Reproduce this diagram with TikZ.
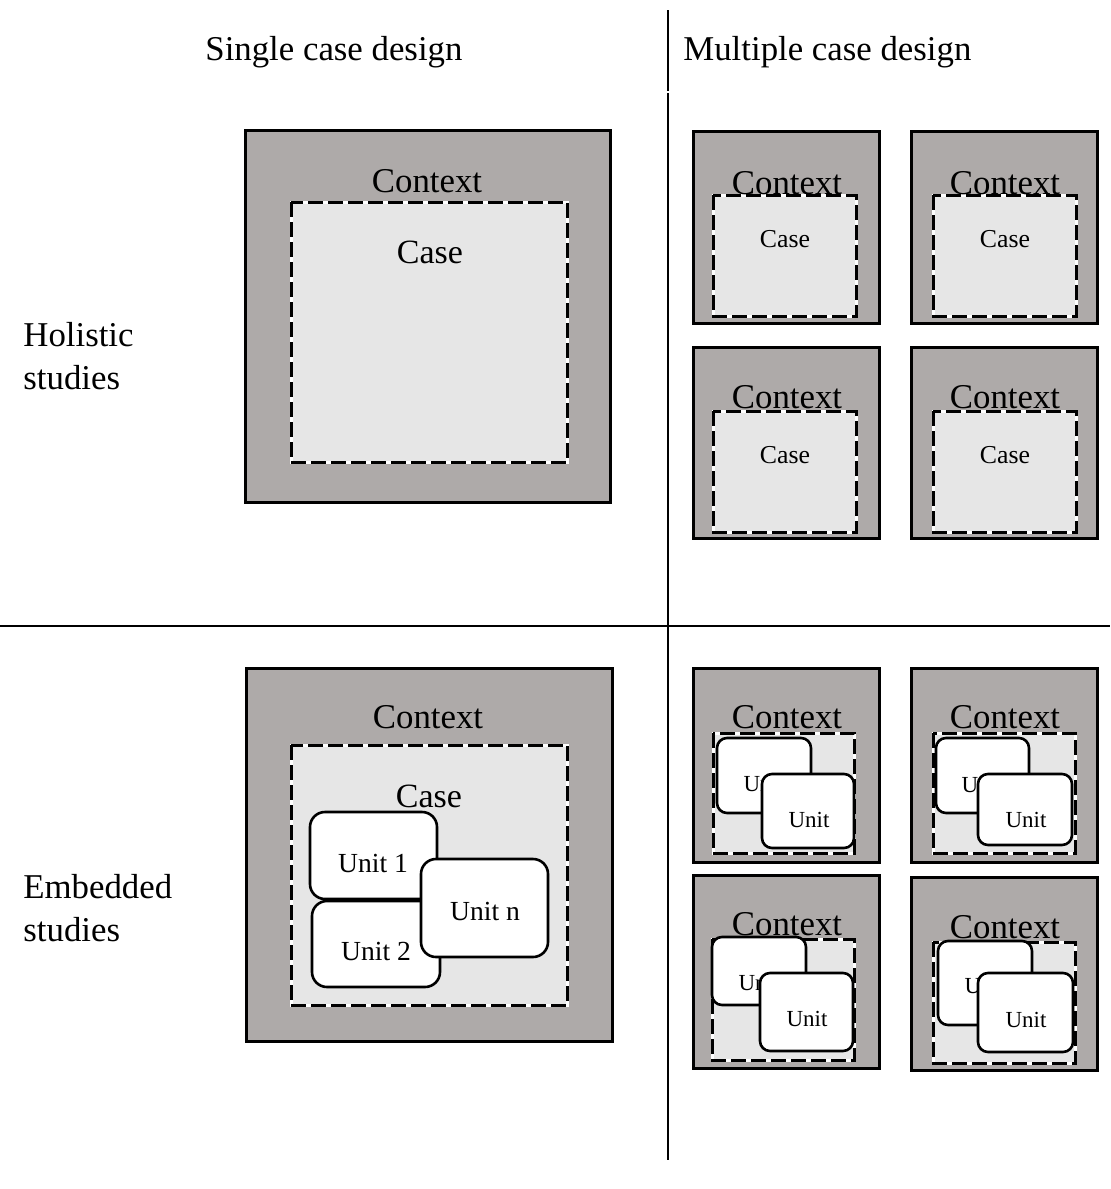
\documentclass[tikz,border=0pt]{standalone}
\usepackage{fontspec}
\setmainfont{Liberation Serif}
\definecolor{ctxgray}{RGB}{174,170,169}
\definecolor{casegray}{RGB}{230,230,230}
\newcommand{\fsz}[1]{\fontsize{#1}{#1}\selectfont}
\tikzset{
  ctxbox/.style={draw=black, fill=ctxgray, line width=1.5pt},
  casefill/.style={fill=casegray, draw=white, line width=1.5pt},
  casedash/.style={draw=black, line width=1.5pt, dash pattern=on 7.5pt off 2.5pt},
  unitbox/.style={draw=black, fill=white, line width=1.3pt, rounded corners=#1},
  unitbox/.default=5pt,
  lbl/.style={anchor=base, inner sep=0pt},
  divider/.style={line width=1pt},
  head/.style={lbl, font=\fsz{17.4}},
  ctxlbl/.style={lbl, font=\fsz{17.4}},
  biglbl/.style={lbl, font=\fsz{17}},
  smallcase/.style={lbl, font=\fsz{12.9}},
  bigunit/.style={lbl, font=\fsz{13.8}},
  smallunit/.style={lbl, font=\fsz{11.5}},
}
% a dashed case frame: white line underneath, black dashes on top
\newcommand{\caseframe}[4]{%
  \path[casefill] (#1,#2) rectangle (#3,#4);
  \draw[casedash] (#1,#2) rectangle (#3,#4);}
\begin{document}
\begin{tikzpicture}[x=0.5pt,y=-0.5pt]
\useasboundingbox (0,0) rectangle (1110,1189);

% quadrant dividers
\coordinate (vtop) at (668,10);
\coordinate (vgapa) at (668,91);
\coordinate (vgapb) at (668,93);
\coordinate (vbot) at (668,1160);
\coordinate (hleft) at (0,626);
\coordinate (hright) at (1110,626);
\draw[divider] (vtop) -- (vgapa);
\draw[divider] (vgapb) -- (vbot);
\draw[divider] (hleft) -- (hright);

% headings
\node[head, anchor=base west] (hsingle) at (205,60) {Single case design};
\node[head, anchor=base west] (hmulti) at (683,60) {Multiple case design};
\node[head, anchor=base west] (rhol1) at (23,346) {Holistic};
\node[head, anchor=base west] (rhol2) at (23,389) {studies};
\node[head, anchor=base west] (remb1) at (23,898) {Embedded};
\node[head, anchor=base west] (remb2) at (23,941) {studies};

% ---- single holistic
\draw[ctxbox] (245,130) rectangle (610,502);
\caseframe{291}{202}{567}{462}
\node[ctxlbl] (shctx) at (427,192) {Context};
\node[biglbl] (shcase) at (430,263) {Case};

% ---- multiple holistic
\draw[ctxbox] (693,131) rectangle (879,323);
\caseframe{713}{195}{856}{316}
\node[ctxlbl] (mh1ctx) at (787,194) {Context};
\node[smallcase] (mh1case) at (785,247) {Case};

\draw[ctxbox] (911,131) rectangle (1097,323);
\caseframe{933}{195}{1076}{316}
\node[ctxlbl] (mh2ctx) at (1005,194) {Context};
\node[smallcase] (mh2case) at (1005,247) {Case};

\draw[ctxbox] (693,347) rectangle (879,538);
\caseframe{713}{411}{856}{532}
\node[ctxlbl] (mh3ctx) at (787,408) {Context};
\node[smallcase] (mh3case) at (785,463) {Case};

\draw[ctxbox] (911,347) rectangle (1097,538);
\caseframe{933}{411}{1076}{532}
\node[ctxlbl] (mh4ctx) at (1005,408) {Context};
\node[smallcase] (mh4case) at (1005,463) {Case};

% ---- single embedded
\draw[ctxbox] (246,668) rectangle (612,1041);
\caseframe{291}{745}{567}{1005}
\node[ctxlbl] (sectx) at (428,728) {Context};
\node[biglbl] (secase) at (429,807) {Case};
\draw[unitbox=7.5pt] (310,812) rectangle (437,899);
\node[bigunit] (su1) at (373,872) {Unit 1};
\draw[unitbox=7.5pt] (312,901) rectangle (440,987);
\node[bigunit] (su2) at (376,960) {Unit 2};
\draw[unitbox=7.5pt] (421,859) rectangle (548,957);
\node[bigunit] (sun) at (485,920) {Unit n};

% ---- multiple embedded
\draw[ctxbox] (693,668) rectangle (879,862);
\caseframe{713}{733}{854}{853}
\node[ctxlbl] (me1ctx) at (787,728) {Context};
\draw[unitbox] (717,738) rectangle (811,813);
\node[smallunit] (me1back) at (764,791) {Unit};
\draw[unitbox] (762,774) rectangle (854,848);
\node[smallunit] (me1front) at (809,827) {Unit};

\draw[ctxbox] (911,668) rectangle (1097,862);
\caseframe{933}{733}{1075}{853}
\node[ctxlbl] (me2ctx) at (1005,728) {Context};
\draw[unitbox] (936,738) rectangle (1029,813);
\node[smallunit] (me2back) at (982,792) {Unit};
\draw[unitbox] (978,774) rectangle (1072,845);
\node[smallunit] (me2front) at (1026,827) {Unit};

\draw[ctxbox] (693,875) rectangle (879,1068);
\caseframe{712}{939}{854}{1060}
\node[ctxlbl] (me3ctx) at (787,935) {Context};
\draw[unitbox] (712,937) rectangle (806,1005);
\node[smallunit] (me3back) at (759,990) {Unit};
\draw[unitbox] (760,973) rectangle (853,1051);
\node[smallunit] (me3front) at (807,1026) {Unit};

\draw[ctxbox] (911,877) rectangle (1097,1070);
\caseframe{933}{942}{1075}{1063}
\node[ctxlbl] (me4ctx) at (1005,938) {Context};
\draw[unitbox] (938,941) rectangle (1032,1025);
\node[smallunit] (me4back) at (985,993) {Unit};
\draw[unitbox] (978,973) rectangle (1073,1052);
\node[smallunit] (me4front) at (1026,1027) {Unit};
\end{tikzpicture}
\end{document}
